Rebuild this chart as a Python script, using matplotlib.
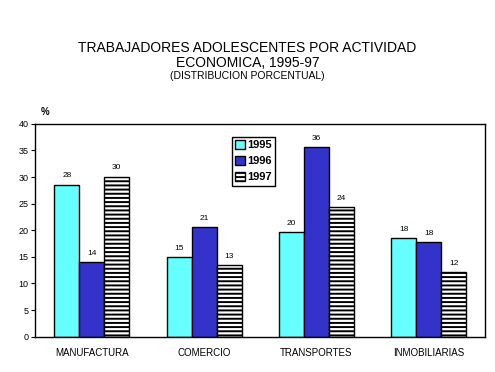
import matplotlib
matplotlib.use("Agg")
import matplotlib.pyplot as plt
import numpy as np

plt.rcParams['font.family'] = ['Liberation Sans', 'DejaVu Sans']
plt.rcParams['hatch.linewidth'] = 1.4

categories = ["MANUFACTURA", "COMERCIO", "TRANSPORTES", "INMOBILIARIAS"]
years = ["1995", "1996", "1997"]
v1995 = [28.6, 14.9, 19.7, 18.5]
v1996 = [14.0, 20.6, 35.6, 17.8]
v1997 = [30.1, 13.4, 24.4, 12.1]
lab1995 = [28, 15, 20, 18]
lab1996 = [14, 21, 36, 18]
lab1997 = [30, 13, 24, 12]
yticks = [0, 5, 10, 15, 20, 25, 30, 35, 40]

fig = plt.figure(figsize=(4.95, 3.72), dpi=100)
ax = fig.add_axes([0.0717, 0.095, 0.9083, 0.572])

x = np.arange(len(categories))
w = 0.222
series = [(v1995, lab1995, '#66FFFF', None),
          (v1996, lab1996, '#3333CC', None),
          (v1997, lab1997, 'white', '----')]
for i, (vals, labs, col, hatch) in enumerate(series):
    bars = ax.bar(x + (i - 1) * w, vals, w, color=col, edgecolor='black',
                  linewidth=1.0, hatch=hatch, label=years[i])
    for b, l in zip(bars, labs):
        ax.text(b.get_x() + b.get_width() / 2, b.get_height() + 1.0, str(l),
                ha='center', va='bottom', fontsize=6)

ax.set_xlim(-0.5, 3.5)
ax.set_ylim(0, 40)
ax.set_yticks(yticks)
ax.set_yticklabels([str(t) for t in yticks], fontsize=6.5)
ax.set_xticks(x)
ax.set_xticklabels(categories, fontsize=7)
ax.tick_params(axis='x', length=0, pad=8)
ax.tick_params(axis='y', length=3, width=0.8, pad=2)
for s in ax.spines.values():
    s.set_linewidth(1.0)

leg = ax.legend(loc='upper left', bbox_to_anchor=(0.437, 0.94), fancybox=False,
                edgecolor='black', framealpha=1, prop={'weight': 'bold', 'size': 8},
                handlelength=0.9, handleheight=0.9, handletextpad=0.2,
                borderpad=0.3, labelspacing=0.5, borderaxespad=0)
leg.get_frame().set_linewidth(1.0)

fig.text(0.5, 0.871, "TRABAJADORES ADOLESCENTES POR ACTIVIDAD", ha='center', va='center', fontsize=10)
fig.text(0.5, 0.831, "ECONOMICA, 1995-97", ha='center', va='center', fontsize=10)
fig.text(0.5, 0.796, "(DISTRIBUCION PORCENTUAL)", ha='center', va='center', fontsize=7.5)
fig.text(0.091, 0.70, "%", ha='center', va='center', fontsize=7, fontweight='bold')

fig.savefig("out.png", dpi=100)
